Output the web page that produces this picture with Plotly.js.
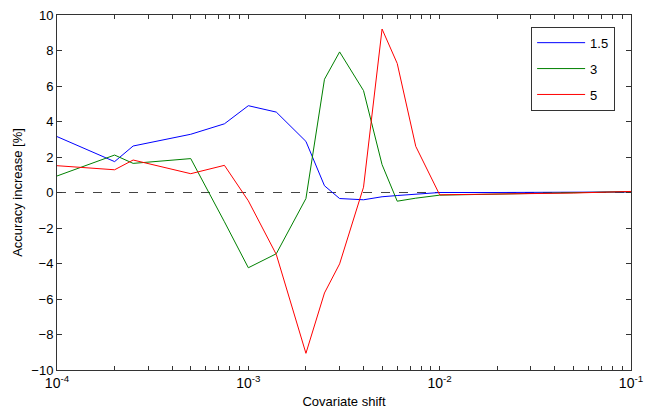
<!DOCTYPE html>
<html>
<head>
<meta charset="utf-8">
<script src="https://cdn.plot.ly/plotly-3.0.1.min.js"></script>
<style>html,body{margin:0;padding:0;background:#fff}#chart{width:645px;height:410px}</style>
</head>
<body>
<div id="chart"></div>
<script>
var covariateShift = [1e-4, 2e-4, 2.5e-4, 5e-4, 7.5e-4, 1e-3, 1.4e-3, 2e-3, 2.5e-3, 3e-3, 4e-3, 5e-3, 6e-3, 7.5e-3, 1e-2, 2e-2, 5e-2, 1e-1];
var series15 = [3.15, 1.74, 2.62, 3.28, 3.87, 4.89, 4.53, 2.88, 0.38, -0.34, -0.41, -0.24, -0.17, -0.09, 0.0, 0.0, 0.02, 0.03];
var series3  = [0.93, 2.11, 1.64, 1.91, -1.65, -4.24, -3.45, -0.34, 6.38, 7.92, 5.74, 1.57, -0.49, -0.32, -0.15, -0.08, 0.0, 0.05];
var series5  = [1.51, 1.28, 1.83, 1.06, 1.53, -0.47, -3.49, -9.06, -5.66, -4.02, 0.3, 9.21, 7.27, 2.6, -0.13, -0.1, -0.03, 0.06];
var seriesNames = ['1.5', '3', '5'];
var seriesColors = ['#0000ff', '#008000', '#ff0000'];
var xTickVals = [1e-4, 1e-3, 1e-2, 1e-1];
var xTickText = ['10<sup>-4</sup>', '10<sup>-3</sup>', '10<sup>-2</sup>', '10<sup>-1</sup>'];
var yTickVals = [-10, -8, -6, -4, -2, 0, 2, 4, 6, 8, 10];
var minorMultipliers = [2, 3, 4, 5, 6, 7, 8, 9];

// major decade ticks with labels, plus unlabeled ticks at 2..9 x each decade
var xAllVals = [], xAllText = [];
xTickVals.forEach(function (d, i) {
  xAllVals.push(d); xAllText.push(xTickText[i]);
  if (i < xTickVals.length - 1) {
    minorMultipliers.forEach(function (m) { xAllVals.push(d * m); xAllText.push(''); });
  }
});

var allSeries = [series15, series3, series5];
var traces = allSeries.map(function (ys, i) {
  return {
    x: covariateShift, y: ys, type: 'scatter', mode: 'lines',
    name: seriesNames[i], legendgroup: 'g' + i,
    line: {color: seriesColors[i], width: 1}
  };
});

var fam = 'Liberation Sans, Arial, sans-serif';
var layout = {
  width: 645, height: 410,
  margin: {l: 57, r: 14, t: 15, b: 40},
  paper_bgcolor: '#fff', plot_bgcolor: '#fff',
  font: {family: fam, size: 12, color: '#000'},
  showlegend: true,
  legend: {
    x: 0.826, y: 0.967, xanchor: 'left', yanchor: 'top',
    bgcolor: '#fff', bordercolor: '#333', borderwidth: 1,
    font: {family: fam, size: 13, color: '#000'},
    itemwidth: 48,
    tracegroupgap: 6
  },
  xaxis: {
    type: 'log', range: [-4, -1],
    tickmode: 'array', tickvals: xAllVals, ticktext: xAllText,
    ticks: 'inside', ticklen: 4, tickcolor: '#333',
    showline: true, linecolor: '#333', linewidth: 1, mirror: 'ticks',
    showgrid: false, zeroline: false,
    tickfont: {family: fam, size: 14, color: '#000'},
    title: {text: 'Covariate shift', font: {family: fam, size: 13, color: '#000'}, standoff: 7}
  },
  yaxis: {
    range: [-10, 10],
    tickvals: yTickVals,
    ticks: 'inside', ticklen: 5, tickcolor: '#333',
    showline: true, linecolor: '#333', linewidth: 1, mirror: 'ticks',
    showgrid: false, zeroline: false,
    tickfont: {family: fam, size: 13, color: '#000'},
    title: {text: 'Accuracy increase [%]', font: {family: fam, size: 13, color: '#000'}, standoff: 5}
  },
  shapes: [{
    type: 'line', xref: 'paper', yref: 'y', x0: 0, x1: 1, y0: 0, y1: 0,
    line: {color: '#444', width: 1, dash: 'dash'}, layer: 'below'
  }]
};

Plotly.newPlot('chart', traces, layout, {staticPlot: true, displayModeBar: false});
</script>
</body>
</html>
